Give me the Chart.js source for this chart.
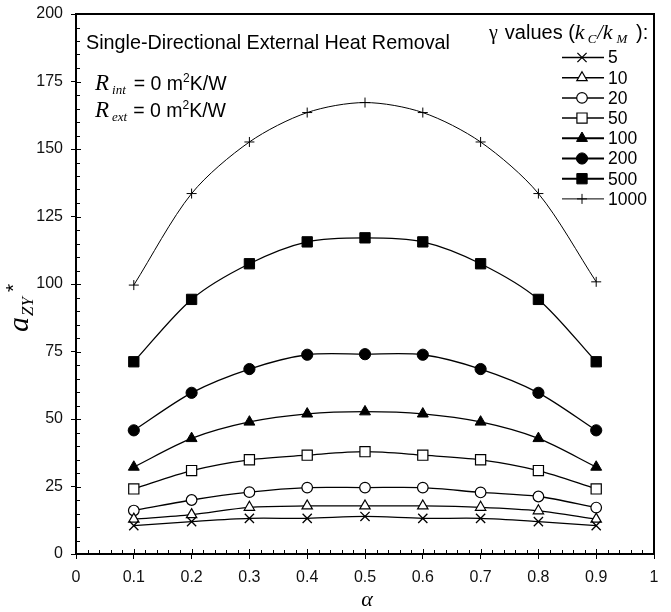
<!DOCTYPE html>
<html>
<head>
<meta charset="utf-8">
<script src="https://cdn.jsdelivr.net/npm/chart.js@4.4.1/dist/chart.umd.min.js"></script>
<style>
  html, body { margin: 0; padding: 0; background: #fff; }
  #wrap { width: 671px; height: 612px; }
</style>
</head>
<body>
<div id="wrap"><canvas id="grafik" width="671" height="612"></canvas></div>
<script>
// alpha values on the x axis
const alphaValues = [0.1, 0.2, 0.3, 0.4, 0.5, 0.6, 0.7, 0.8, 0.9];

// a_ZY* for each gamma (k_C / k_M)
const gamma5 = [10.5, 12.0, 13.2, 13.2, 13.9, 13.2, 13.2, 12.0, 10.5];
const gamma10 = [12.9, 14.6, 17.3, 17.8, 17.8, 17.8, 17.3, 16.0, 12.9];
const gamma20 = [16.1, 20.0, 22.9, 24.6, 24.6, 24.6, 22.8, 21.3, 17.2];
const gamma50 = [24.1, 30.9, 34.9, 36.6, 37.9, 36.6, 34.9, 30.9, 24.1];
const gamma100 = [32.2, 42.8, 48.9, 51.9, 52.7, 51.9, 48.9, 42.8, 32.2];
const gamma200 = [45.8, 59.7, 68.5, 73.8, 74.0, 73.8, 68.5, 59.7, 45.8];
const gamma500 = [71.2, 94.3, 107.5, 115.6, 117.1, 115.6, 107.5, 94.3, 71.2];
const gamma1000 = [99.6, 133.5, 152.6, 163.5, 167.2, 163.5, 152.6, 133.5, 100.8];

const seriesLabels = ["5", "10", "20", "50", "100", "200", "500", "1000"];

// tick labels
const xTickLabels = ["0", "0.1", "0.2", "0.3", "0.4", "0.5", "0.6", "0.7", "0.8", "0.9", "1"];
const yTickLabels = ["0", "25", "50", "75", "100", "125", "150", "175", "200"];

const sansFont = "'Liberation Sans', Arial, sans-serif";
const serifFont = "'Liberation Serif', 'Times New Roman', serif";

// marker style for each series
const markers = [
  { style: "crossRot", radius: 6.5, fill: "#000", width: 1.3 },
  { style: "triangle", radius: 6, fill: "#fff", width: 1.2 },
  { style: "circle", radius: 5.3, fill: "#fff", width: 1.2 },
  { style: "rect", radius: 7.2, fill: "#fff", width: 1.2 },
  { style: "triangle", radius: 6.3, fill: "#000", width: 1 },
  { style: "circle", radius: 5.6, fill: "#000", width: 1 },
  { style: "rect", radius: 7.3, fill: "#000", width: 1 },
  { style: "cross", radius: 5, fill: "#000", width: 1 },
];
const legendLineWidths = [1.5, 1.5, 1.5, 1.5, 2, 2, 2, 1];

function makeDataset(values, i) {
  const m = markers[i];
  return {
    label: seriesLabels[i],
    data: alphaValues.map((a, k) => ({ x: a, y: values[k] })),
    borderColor: "#000",
    borderWidth: i === 7 ? 1 : 1.3,
    tension: 0.3,
    pointStyle: m.style,
    pointRadius: m.radius,
    pointBackgroundColor: m.fill,
    pointBorderColor: "#000",
    pointBorderWidth: m.width,
    fill: false,
  };
}

// texts drawn with mixed fonts (sub- and superscripts)
function drawRich(ctx, parts, x, y) {
  let cx = x;
  parts.forEach((p) => {
    ctx.font = p.font;
    ctx.fillText(p.text, cx, y + (p.dy || 0));
    cx += ctx.measureText(p.text).width + (p.gap || 0);
  });
  return cx;
}

const decorPlugin = {
  id: "decor",
  afterDatasetsDraw(chart) {
    const { ctx, chartArea } = chart;
    const xs = chart.scales.x;
    const ys = chart.scales.y;
    ctx.save();
    ctx.strokeStyle = "#000";
    ctx.fillStyle = "#000";

    // frame
    ctx.lineWidth = 2;
    ctx.beginPath();
    ctx.moveTo(chartArea.left, chartArea.top);
    ctx.lineTo(chartArea.right, chartArea.top);
    ctx.lineTo(chartArea.right, chartArea.bottom);
    ctx.stroke();

    // inner ticks: major every 25 / 0.1, minor every 5 / 0.02
    ctx.lineWidth = 1;
    ctx.beginPath();
    for (let v = 5; v < 200; v += 5) {
      const py = Math.round(ys.getPixelForValue(v)) + 0.5;
      const len = v % 25 === 0 ? 5 : 4;
      ctx.moveTo(chartArea.left, py);
      ctx.lineTo(chartArea.left + len, py);
    }
    for (let k = 1; k < 50; k++) {
      const px = Math.round(xs.getPixelForValue(k / 50)) + 0.5;
      const len = k % 5 === 0 ? 5 : 4;
      ctx.moveTo(px, chartArea.bottom);
      ctx.lineTo(px, chartArea.bottom - len);
    }
    ctx.stroke();

    // annotations
    ctx.textBaseline = "alphabetic";
    ctx.textAlign = "left";
    ctx.font = "19.8px " + sansFont;
    ctx.fillText("Single-Directional External Heat Removal", 86, 49);

    drawRich(ctx, [
      { text: "R", font: "italic 23px " + serifFont, gap: 3 },
      { text: "int", font: "italic 13px " + serifFont, dy: 4, gap: 8 },
      { text: "= 0 m", font: "19.5px " + sansFont },
      { text: "2", font: "12px " + sansFont, dy: -8 },
      { text: "K/W", font: "19.5px " + sansFont },
    ], 95, 90);
    drawRich(ctx, [
      { text: "R", font: "italic 23px " + serifFont, gap: 3 },
      { text: "ext", font: "italic 13px " + serifFont, dy: 4, gap: 6 },
      { text: "= 0 m", font: "19.5px " + sansFont },
      { text: "2", font: "12px " + sansFont, dy: -8 },
      { text: "K/W", font: "19.5px " + sansFont },
    ], 95, 117);

    // legend title
    drawRich(ctx, [
      { text: "\u03B3", font: "20px " + serifFont, gap: 7 },
      { text: "values (", font: "20px " + sansFont },
      { text: "k", font: "italic 22px " + serifFont, gap: 3 },
      { text: "C", font: "italic 13px " + serifFont, dy: 4, gap: 1 },
      { text: "/", font: "italic 20px " + serifFont },
      { text: "k", font: "italic 22px " + serifFont, gap: 4 },
      { text: "M", font: "italic 13px " + serifFont, dy: 4, gap: 3 },
      { text: " ):", font: "20px " + sansFont },
    ], 489, 39);

    // legend entries
    const helpers = Chart.helpers;
    chart.data.datasets.forEach((ds, i) => {
      const ly = 57.5 + i * 20.2;
      ctx.lineWidth = legendLineWidths[i];
      ctx.beginPath();
      ctx.moveTo(562, ly);
      ctx.lineTo(604, ly);
      ctx.stroke();
      const m = markers[i];
      ctx.fillStyle = m.fill;
      ctx.strokeStyle = "#000";
      ctx.lineWidth = m.width;
      helpers.drawPoint(ctx, { pointStyle: m.style, radius: m.radius, rotation: 0, borderWidth: m.width }, 582, ly);
      ctx.fillStyle = "#000";
      ctx.font = "17.5px " + sansFont;
      ctx.textBaseline = "middle";
      ctx.fillText(ds.label, 608, ly + 1);
      ctx.textBaseline = "alphabetic";
    });

    // axis titles
    ctx.save();
    ctx.translate(28, 332);
    ctx.rotate(-Math.PI / 2);
    drawRich(ctx, [
      { text: "a", font: "italic 30px " + serifFont, gap: 1 },
      { text: "ZY", font: "italic 17px " + serifFont, dy: 5, gap: 5 },
      { text: "*", font: "21px " + sansFont, dy: -8 },
    ], 0, 0);
    ctx.restore();

    ctx.textAlign = "center";
    ctx.font = "italic 22px " + serifFont;
    ctx.fillText("\u03B1", 367, 606);

    ctx.restore();
  },
};

const ctx = document.getElementById("grafik").getContext("2d");

new Chart(ctx, {
  type: "line",
  data: {
    datasets: [gamma5, gamma10, gamma20, gamma50, gamma100, gamma200, gamma500, gamma1000].map(makeDataset),
  },
  options: {
    responsive: false,
    animation: false,
    layout: { padding: { left: 0, right: 17, top: 14, bottom: 0 } },
    plugins: {
      legend: { display: false },
      tooltip: { enabled: false },
    },
    scales: {
      x: {
        type: "linear",
        min: 0,
        max: 1,
        ticks: {
          stepSize: 0.1,
          color: "#111",
          font: { family: sansFont, size: 16 },
          padding: 9,
          maxRotation: 0,
          callback: (v, i) => xTickLabels[i],
        },
        grid: { drawOnChartArea: false, drawTicks: true, tickLength: 5, color: "#000", lineWidth: 1 },
        border: { display: true, color: "#000", width: 2 },
        afterFit: (scale) => {
          scale.height = 58;
          scale.paddingLeft = 0;
          scale.paddingRight = 0;
        },
      },
      y: {
        type: "linear",
        min: 0,
        max: 200,
        ticks: {
          stepSize: 25,
          color: "#111",
          font: { family: sansFont, size: 16 },
          padding: 8,
          callback: (v, i) => yTickLabels[i],
        },
        grid: { drawOnChartArea: false, drawTicks: true, tickLength: 5, color: "#000", lineWidth: 1 },
        border: { display: true, color: "#000", width: 2 },
        afterFit: (scale) => {
          scale.width = 76;
          scale.paddingTop = 0;
          scale.paddingBottom = 0;
        },
      },
    },
  },
  plugins: [decorPlugin],
});
</script>
</body>
</html>
